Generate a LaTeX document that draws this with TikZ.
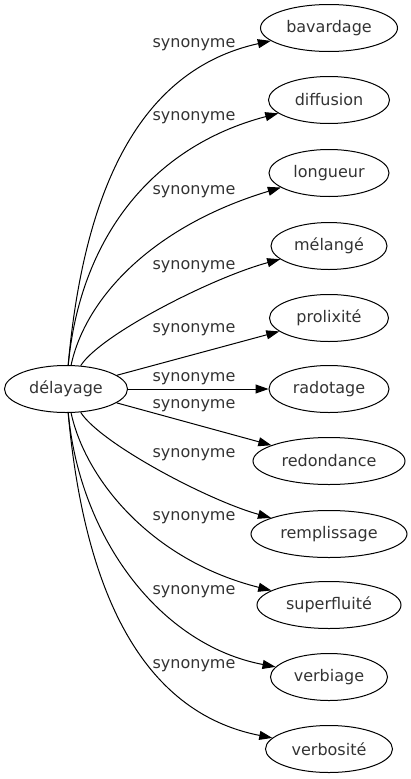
\documentclass[tikz,border=0pt]{standalone}
\usepackage{fontspec}
\setmainfont{DejaVu Sans}
\usetikzlibrary{shapes.geometric,arrows.meta}
\tikzset{
  term/.style={ellipse, draw=black, line width=1pt, inner sep=0pt, minimum height=47pt, text=black!80, font=\fontsize{16}{19}\selectfont},
  lbl/.style={inner sep=0pt, text=black!80, font=\fontsize{16}{19}\selectfont},
  edge/.style={draw=black, line width=1pt, -{Triangle[length=13pt,width=9pt]}}
}
\begin{document}
\begin{tikzpicture}[x=1pt,y=-1pt]
\useasboundingbox (0,0) rectangle (411,779);
\node[term, minimum width=123pt] (d) at (66,389) {délayage};
\node[term, minimum width=137pt] (t1) at (329,28) {bavardage};
\node[term, minimum width=121pt] (t2) at (329,100) {diffusion};
\node[term, minimum width=120pt] (t3) at (329,173) {longueur};
\node[term, minimum width=116pt] (t4) at (329,246) {mélangé};
\node[term, minimum width=119pt] (t5) at (329,318) {prolixité};
\node[term, minimum width=120pt] (t6) at (329,389) {radotage};
\node[term, minimum width=152pt] (t7) at (329,461) {redondance};
\node[term, minimum width=156pt] (t8) at (329,534) {remplissage};
\node[term, minimum width=144pt] (t9) at (329,605) {superfluité};
\node[term, minimum width=117pt] (t10) at (329,677) {verbiage};
\node[term, minimum width=127pt] (t11) at (329,749) {verbosité};

\draw[edge] (d) .. controls (84,190) and (139,70) .. (t1);
\draw[edge] (d) .. controls (80,240) and (150,147) .. (t2);
\draw[edge] (d) .. controls (85,300) and (150,227) .. (t3);
\draw[edge] (d) .. controls (100,335) and (211,278) .. (t4);
\draw[edge] (d) -- (t5);
\draw[edge] (d) -- (t6);
\draw[edge] (d) -- (t7);
\draw[edge] (d) .. controls (100,443) and (207,500) .. (t8);
\draw[edge] (d) .. controls (85,478) and (150,560) .. (t9);
\draw[edge] (d) .. controls (80,538) and (160,645) .. (t10);
\draw[edge] (d) .. controls (84,588) and (140,712) .. (t11);

\node[lbl] (l1) at (194,45) {synonyme};
\node[lbl] (l2) at (194,118) {synonyme};
\node[lbl] (l3) at (194,192) {synonyme};
\node[lbl] (l4) at (194,267) {synonyme};
\node[lbl] (l5) at (194,330) {synonyme};
\node[lbl] (l6) at (194,379) {synonyme};
\node[lbl] (l7) at (194,406) {synonyme};
\node[lbl] (l8) at (194,455) {synonyme};
\node[lbl] (l9) at (194,518) {synonyme};
\node[lbl] (l10) at (194,592) {synonyme};
\node[lbl] (l11) at (194,666) {synonyme};
\end{tikzpicture}
\end{document}
